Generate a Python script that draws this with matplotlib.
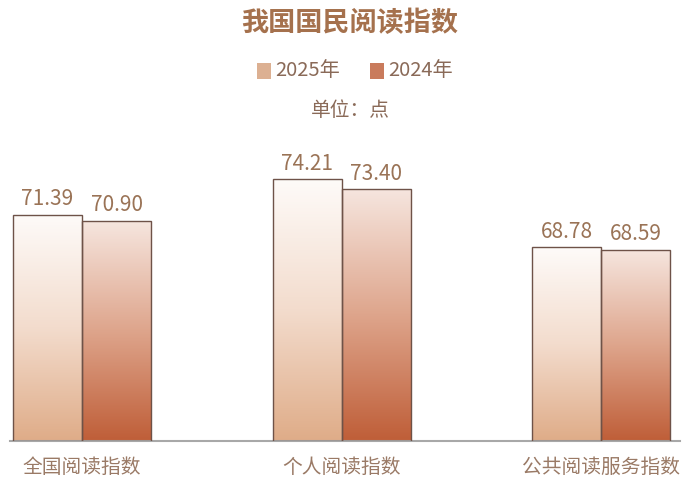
import matplotlib
matplotlib.use("Agg")
import matplotlib.pyplot as plt
import numpy as np
from matplotlib.colors import LinearSegmentedColormap

plt.rcParams['font.family'] = ['Noto Sans CJK SC', 'DejaVu Sans']

categories = ["全国阅读指数", "个人阅读指数", "公共阅读服务指数"]
series_names = ["2025年", "2024年"]
values_2025 = [71.39, 74.21, 68.78]
values_2024 = [70.90, 73.40, 68.59]

base = 53.4
top = 76.0
bar_w = 0.266

cmaps = [
    LinearSegmentedColormap.from_list("g25", ["#fefbf9", "#f3dccd", "#dfac88"]),
    LinearSegmentedColormap.from_list("g24", ["#f6e6df", "#dea58c", "#bf5e38"]),
]
legend_colors = ["#dcb092", "#c97b5c"]
edge = "#6e5248"

fig = plt.figure(figsize=(7, 4.95), dpi=100)
ax = fig.add_axes([10 / 700, (495 - 441.3) / 495, 670 / 700, (441.3 - 156.5) / 495])

x = np.arange(len(categories))
grad = np.linspace(0, 1, 256).reshape(-1, 1)
for k, vals in enumerate([values_2025, values_2024]):
    offs = (k - 0.5) * bar_w
    bars = ax.bar(x + offs, np.array(vals) - base, bar_w, bottom=base,
                  facecolor="none", edgecolor=edge, linewidth=1.0, zorder=3)
    for b, v in zip(bars, vals):
        x0 = b.get_x()
        im = ax.imshow(grad, cmap=cmaps[k], aspect="auto", origin="upper",
                       extent=[x0, x0 + bar_w, base, v], zorder=2)
        im.set_clip_path(b)
        ax.text(x0 + bar_w / 2, v + 0.35, f"{v:.2f}", ha="center", va="bottom",
                fontsize=15, color="#9a7356")

ax.set_xlim(-0.2775, 2.304)
ax.set_ylim(base, top)
for s in ["top", "right", "left"]:
    ax.spines[s].set_visible(False)
ax.spines["bottom"].set_color("#a8a8a8")
ax.spines["bottom"].set_linewidth(1.5)
ax.set_yticks([])
ax.set_xticks(x)
ax.set_xticklabels(categories, fontsize=14.2, color="#9a7a66")
ax.tick_params(axis="x", length=0, pad=11)
ax.patch.set_visible(False)

fig.text(0.5, 1 - 23 / 495, "我国国民阅读指数", ha="center", va="center",
         fontsize=19.5, fontweight="bold", color="#a5714d")

# legend
ly = 1 - 71 / 495
for name, c, px in zip(series_names, legend_colors, [257, 370]):
    fig.patches.append(plt.Rectangle((px / 700, ly - 8 / 495), 14 / 700, 16 / 495,
                                     transform=fig.transFigure, facecolor=c,
                                     edgecolor="none"))
    fig.text((px + 18) / 700, ly, name, ha="left", va="center",
             fontsize=14.5, color="#8a6a58")

fig.text(0.5, 1 - 110 / 495, "单位：点", ha="center", va="center",
         fontsize=14.2, color="#8a6a58")

plt.savefig("out.png", dpi=100)
